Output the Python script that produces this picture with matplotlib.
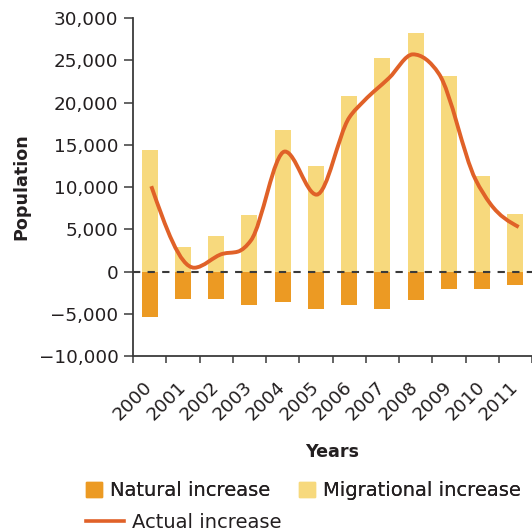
import numpy as np
import matplotlib
matplotlib.use('Agg')
from matplotlib import pyplot as plt
from matplotlib.path import Path
from matplotlib.patches import PathPatch, Patch
from matplotlib.lines import Line2D
from matplotlib.ticker import FuncFormatter

###############################################################
## data
###############################################################
years = [2000, 2001, 2002, 2003, 2004, 2005, 2006, 2007, 2008, 2009, 2010, 2011]
migrational = [14400, 2900, 4250, 6700, 16800, 12500, 20800, 25300, 28200, 23150, 11300, 6850]
natural = [-5400, -3200, -3200, -4000, -3600, -4400, -4000, -4400, -3400, -2100, -2100, -1600]

# key points of the smoothed "actual increase" curve (year position, value)
actual_pos = [2000.05, 2001.34, 2002.2, 2002.65, 2003.05, 2004.07, 2005.02, 2006.0,
              2006.45, 2007.2, 2007.92, 2008.7, 2009.8, 2010.25, 2011.1]
actual_val = [10100, 450, 2100, 2350, 3700, 14200, 9100, 18200,
              20200, 22900, 25700, 23400, 10900, 8000, 5270]

###############################################################
## style
###############################################################
plt.rcParams['font.family'] = 'DejaVu Sans'
txt_col = '#231f20'
col_mig = '#f7d97d'
col_nat = '#ec9a23'
col_line = '#e06128'
bar_w = 0.48
tick_fs = 13.2
leg_fs = 14


def monotone_path(x, y):
    # smooth curve through points (monotone cubic, as bezier segments)
    x = np.asarray(x, float)
    y = np.asarray(y, float)
    n = len(x)
    h = np.diff(x)
    s = np.diff(y) / h
    m = np.zeros(n)
    for i in range(1, n - 1):
        if s[i - 1] * s[i] <= 0:
            m[i] = 0
        else:
            p = (s[i - 1] * h[i] + s[i] * h[i - 1]) / (h[i - 1] + h[i])
            m[i] = 2 * np.sign(s[i]) * min(abs(s[i - 1]), abs(s[i]), 0.5 * abs(p))
    m[0] = (3 * s[0] - m[1]) / 2
    m[-1] = (3 * s[-1] - m[-2]) / 2
    verts = [(x[0], y[0])]
    codes = [Path.MOVETO]
    for i in range(n - 1):
        d = h[i] / 3
        verts += [(x[i] + d, y[i] + m[i] * d), (x[i + 1] - d, y[i + 1] - m[i + 1] * d),
                  (x[i + 1], y[i + 1])]
        codes += [Path.CURVE4] * 3
    return Path(verts, codes)


fig = plt.figure(figsize=(5.32, 5.32), dpi=100)
ax = fig.add_axes([0.25, 0.3308, 0.75, 0.6353])

idx = np.arange(len(years))
ax.bar(idx, migrational, width=bar_w, color=col_mig, zorder=2)
ax.bar(idx, natural, width=bar_w, color=col_nat, zorder=2)
ax.axhline(0, color='#3a3a3a', lw=1.5, dashes=(3.5, 3.5), zorder=3)

px = np.array(actual_pos) - years[0]
ax.add_patch(PathPatch(monotone_path(px, actual_val), fill=False, edgecolor=col_line,
                       lw=2.8, capstyle='butt', zorder=4))

ax.set_xlim(-0.5, len(years) - 0.5)
ax.set_ylim(-10000, 30000)
ax.set_yticks(np.arange(-10000, 30001, 5000))
ax.yaxis.set_major_formatter(FuncFormatter(
    lambda v, p: ('\u2212' if v < 0 else '') + '{:,}'.format(int(abs(v)))))

ax.set_xticks(np.arange(-0.5, len(years), 1))
ax.set_xticklabels([])
ax.set_xticks(idx, minor=True)
ax.set_xticklabels([str(y) for y in years], minor=True, rotation=45,
                   ha='right', va='center', rotation_mode='anchor')
ax.tick_params(axis='x', which='minor', length=0, pad=20.5, labelsize=tick_fs, labelcolor=txt_col)
ax.tick_params(axis='x', which='major', length=5, width=1.1, color='#3a3a3a')
ax.tick_params(axis='y', length=6.5, width=1.1, color='#3a3a3a', pad=4,
               labelsize=tick_fs, labelcolor=txt_col)

for side in ['top', 'right']:
    ax.spines[side].set_visible(False)
for side in ['left', 'bottom']:
    ax.spines[side].set_linewidth(1.3)
    ax.spines[side].set_color('#3a3a3a')

fig.text(332 / 532, 1 - 452 / 532, 'Years', ha='center', va='center',
         fontsize=12.6, weight='bold', color=txt_col)
fig.text(21 / 532, 1 - 187 / 532, 'Population', ha='center', va='center', rotation=90,
         fontsize=12.6, weight='bold', color=txt_col)

h_bars = [Patch(color=col_nat), Patch(color=col_mig)]
leg1 = fig.legend(h_bars, ['Natural increase', 'Migrational increase'], ncol=2,
                  loc='center left', bbox_to_anchor=(86 / 532, 1 - 491 / 532),
                  frameon=False, fontsize=leg_fs, borderpad=0, borderaxespad=0,
                  handlelength=0.82, handleheight=0.82, handletextpad=0.42,
                  columnspacing=1.45, labelcolor=txt_col)
h_line = [Line2D([], [], color=col_line, lw=2.6)]
fig.legend(h_line, ['Actual increase'], loc='center left',
           bbox_to_anchor=(86 / 532, 1 - 522 / 532), frameon=False, fontsize=leg_fs,
           borderpad=0, borderaxespad=0, handlelength=1.96, handletextpad=0.42,
           labelcolor=txt_col)
fig.add_artist(leg1)

fig.savefig('out.png', dpi=100)
